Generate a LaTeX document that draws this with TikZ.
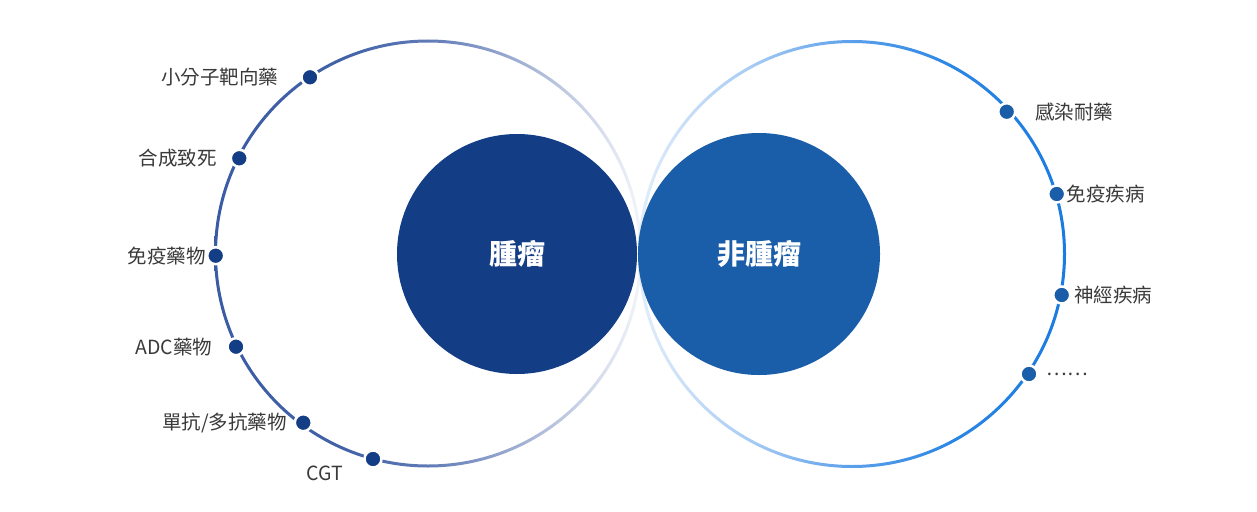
\documentclass[tikz,border=0pt]{standalone}
\usepackage{fontspec}
\setmainfont{Noto Sans CJK TC}
\usepackage{xcolor}
\usetikzlibrary{positioning}

\definecolor{tumorBlue}{HTML}{133E86}
\definecolor{nonBlue}{HTML}{1A5DA8}
\definecolor{txtGray}{HTML}{3A3A3A}
\definecolor{ringTA}{HTML}{3A5CA5}
\definecolor{ringTB}{HTML}{4262A8}
\definecolor{ringTC}{HTML}{5F7AB6}
\definecolor{ringTD}{HTML}{A9B6D7}
\definecolor{ringTE}{HTML}{F3F5FA}
\definecolor{ringNA}{HTML}{E2EDFA}
\definecolor{ringNB}{HTML}{A8CCF4}
\definecolor{ringNC}{HTML}{5A9FEA}
\definecolor{ringND}{HTML}{2A86E4}
\definecolor{ringNE}{HTML}{1A7BE0}

\pgfdeclarehorizontalshading{ringTumor}{100bp}{color(0bp)=(ringTA); color(25bp)=(ringTA); color(40bp)=(ringTB); color(50bp)=(ringTC); color(62bp)=(ringTD); color(75bp)=(ringTE); color(100bp)=(ringTE)}
\pgfdeclarehorizontalshading{ringNon}{100bp}{color(0bp)=(ringNA); color(25bp)=(ringNA); color(38bp)=(ringNB); color(50bp)=(ringNC); color(62bp)=(ringND); color(75bp)=(ringNE); color(100bp)=(ringNE)}

\begin{document}
\begin{tikzpicture}
[
x=1pt, y=1pt,
dotTumor/.style={
	circle,
	fill=tumorBlue,
	draw=white,
	line width=2.5pt,
	minimum size=17pt,
	inner sep=0pt},
dotNon/.style={
	dotTumor,
	fill=nonBlue},
lblTxt/.style={
	inner sep=0pt,
	text=txtGray,
	font=\fontsize{19.5}{22}\selectfont},
bigDisk/.style={
	circle,
	inner sep=0pt,
	text=white,
	font=\fontsize{28}{30}\selectfont\bfseries}
]
\fill[white] (0,0) rectangle (1257,-511);
\useasboundingbox (0,0) rectangle (1257,-511);

%outer rings
\shade[shading=ringTumor, even odd rule] (428,-253.5) circle[radius=214] (428,-253.5) circle[radius=211];
\shade[shading=ringNon, even odd rule] (852,-254) circle[radius=214] (852,-254) circle[radius=211];

%inner disks
\node[bigDisk, fill=tumorBlue, minimum size=240pt] (tu) at (517,-254) {腫瘤};
\node[bigDisk, fill=nonBlue, minimum size=242pt] (nt) at (759,-254) {非腫瘤};

%tumor ring dots
\node[dotTumor] (d1) at (310,-77.3) {};
\node[dotTumor] (d2) at (239.3,-158.3) {};
\node[dotTumor] (d3) at (215.7,-255.7) {};
\node[dotTumor] (d4) at (236,-346.7) {};
\node[dotTumor] (d5) at (303.3,-422.7) {};
\node[dotTumor] (d6) at (373,-459) {};

%non-tumor ring dots
\node[dotNon] (e1) at (1006.7,-111.7) {};
\node[dotNon] (e2) at (1056.7,-194) {};
\node[dotNon] (e3) at (1061.7,-295) {};
\node[dotNon] (e4) at (1029,-374) {};

%tumor labels
\node[lblTxt, left=22pt of d1] (l1) {小分子靶向藥};
\node[lblTxt, left=12.5pt of d2] (l2) {合成致死};
\node[lblTxt, left=0pt of d3] (l3) {免疫藥物};
\node[lblTxt, left=14pt of d4] (l4) {ADC藥物};
\node[lblTxt, left=6.5pt of d5] (l5) {單抗/多抗藥物};
\node[lblTxt, below left=0pt and 23pt of d6] (l6) {CGT};

%non-tumor labels
\node[lblTxt, right=18.5pt of e1] (r1) {感染耐藥};
\node[lblTxt, right=0pt of e2] (r2) {免疫疾病};
\node[lblTxt, right=2.5pt of e3] (r3) {神經疾病};
\node[lblTxt, right=8pt of e4] (r4) {……};

\end{tikzpicture}
\end{document}
